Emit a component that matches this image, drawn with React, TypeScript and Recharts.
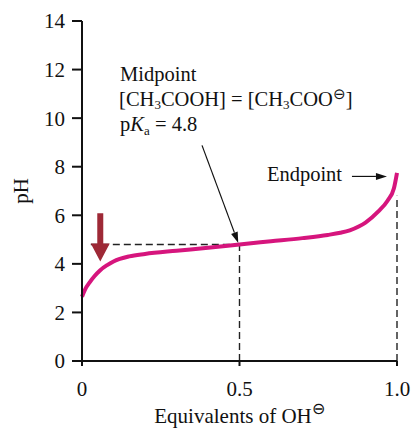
import { Line, LineChart, ReferenceDot, ReferenceLine, XAxis, YAxis } from "recharts";

// titration of acetic acid: equivalents of OH- vs pH
const equivalents = [0, 0.01, 0.025, 0.04, 0.057, 0.08, 0.1, 0.15, 0.2, 0.3, 0.4, 0.5, 0.6, 0.7, 0.78, 0.82, 0.85, 0.88, 0.9, 0.94, 0.97, 0.99, 1.0];
const phValues = [2.65, 2.95, 3.25, 3.5, 3.73, 3.95, 4.1, 4.31, 4.41, 4.54, 4.66, 4.8, 4.93, 5.06, 5.19, 5.28, 5.38, 5.55, 5.7, 6.15, 6.6, 7.1, 7.75];

const xTicks = [0, 0.5, 1.0];
const xTickLabels = ["0", "0.5", "1.0"];
const yTicks = [0, 2, 4, 6, 8, 10, 12, 14];

const midpoint = { eq: 0.5, ph: 4.8 };
const endpoint = { eq: 1.0, ph: 6.8 };

const data = equivalents.map((eq, i) => ({ eq, ph: phValues[i] }));

const FONT = "'Liberation Serif', 'Times New Roman', serif";
const MAGENTA = "#d6157d";
const DARK_RED = "#9e2936";

const ThinArrow = (p: any) => {
  const { x1, y1, x2, y2 } = p;
  const a = Math.atan2(y2 - y1, x2 - x1);
  const len = 11;
  const half = 3.5;
  const bx = x2 - len * Math.cos(a);
  const by = y2 - len * Math.sin(a);
  const nx = -Math.sin(a) * half;
  const ny = Math.cos(a) * half;
  return (
    <g>
      <line x1={x1} y1={y1} x2={bx} y2={by} stroke="#111" strokeWidth={1.2} />
      <polygon points={`${x2},${y2} ${bx + nx},${by + ny} ${bx - nx},${by - ny}`} fill="#111" />
    </g>
  );
};

const FatArrow = (p: any) => {
  const { x1, y1, x2, y2 } = p;
  const headLen = 18;
  const shaft = 3;
  const head = 9.5;
  const hy = y2 - headLen;
  return (
    <polygon
      points={`${x1 - shaft},${y1} ${x1 + shaft},${y1} ${x1 + shaft},${hy} ${x2 + head},${hy} ${x2},${y2} ${x2 - head},${hy} ${x1 - shaft},${hy}`}
      fill={DARK_RED}
    />
  );
};

const MidpointNote = (p: any) => {
  const { cx, cy } = p;
  const t = { fontFamily: FONT, fontSize: 20.5, fill: "#111" };
  return (
    <g>
      <text x={cx} y={cy} {...t}>Midpoint</text>
      <text x={cx - 1} y={cy + 25} {...t}>
        [CH<tspan fontSize={13} dy={3}>3</tspan>
        <tspan dy={-3}>COOH] = [CH</tspan>
        <tspan fontSize={13} dy={3}>3</tspan>
        <tspan dy={-3}>COO</tspan>
        <tspan fontSize={15} dy={-7}>⊖</tspan>
        <tspan dy={7}>]</tspan>
      </text>
      <text x={cx} y={cy + 50} {...t}>
        p<tspan fontStyle="italic">K</tspan>
        <tspan fontSize={13} dy={4}>a</tspan>
        <tspan dy={-4}> = 4.8</tspan>
      </text>
    </g>
  );
};

const EndpointNote = (p: any) => (
  <text x={p.cx} y={p.cy} fontFamily={FONT} fontSize={20.5} fill="#111">Endpoint</text>
);

const XLabel = (p: any) => {
  const vb = p.viewBox;
  return (
    <text x={vb.x + vb.width / 2} y={vb.y + 62} textAnchor="middle" fontFamily={FONT} fontSize={21} fill="#111">
      Equivalents of OH<tspan fontSize={16} dy={-9}>⊖</tspan>
    </text>
  );
};

const YLabel = (p: any) => {
  const vb = p.viewBox;
  const x = vb.x + 6;
  const y = vb.y + vb.height / 2;
  return (
    <text x={x} y={y} transform={`rotate(-90 ${x} ${y})`} textAnchor="middle" fontFamily={FONT} fontSize={21} fill="#111">
      pH
    </text>
  );
};

export default function App() {
  const tick = { fontFamily: FONT, fontSize: 21, fill: "#111" };
  return (
    <div style={{ position: "absolute", left: 0, top: 0, background: "#fff" }}>
      <LineChart width={413} height={429} data={data} margin={{ top: 21, right: 16, bottom: 8, left: 22 }}>
        <XAxis
          dataKey="eq"
          type="number"
          domain={[0, 1]}
          ticks={xTicks}
          tickFormatter={(v) => xTickLabels[xTicks.indexOf(v)] ?? String(v)}
          tick={tick}
          tickSize={5}
          tickMargin={15}
          height={60}
          axisLine={{ stroke: "#111", strokeWidth: 2 }}
          tickLine={{ stroke: "#111", strokeWidth: 2 }}
          label={XLabel}
        />
        <YAxis
          type="number"
          domain={[0, 14]}
          ticks={yTicks}
          tick={tick}
          tickSize={10}
          tickMargin={7}
          width={60}
          axisLine={{ stroke: "#111", strokeWidth: 2 }}
          tickLine={{ stroke: "#111", strokeWidth: 2 }}
          label={YLabel}
        />
        <ReferenceLine
          segment={[{ x: 0.028, y: midpoint.ph }, { x: midpoint.eq, y: midpoint.ph }]}
          stroke="#222"
          strokeWidth={1.4}
          strokeDasharray="7 4"
        />
        <ReferenceLine
          segment={[{ x: midpoint.eq, y: 0 }, { x: midpoint.eq, y: midpoint.ph }]}
          stroke="#222"
          strokeWidth={1.4}
          strokeDasharray="7 4"
        />
        <ReferenceLine
          segment={[{ x: endpoint.eq, y: 0 }, { x: endpoint.eq, y: endpoint.ph }]}
          stroke="#222"
          strokeWidth={1.4}
          strokeDasharray="7 4"
        />
        <Line
          type="monotone"
          dataKey="ph"
          stroke={MAGENTA}
          strokeWidth={4}
          dot={false}
          activeDot={false}
          isAnimationActive={false}
        />
        <ReferenceLine segment={[{ x: 0.058, y: 6.08 }, { x: 0.058, y: 4.1 }]} shape={FatArrow} />
        <ReferenceLine segment={[{ x: 0.381, y: 8.88 }, { x: 0.496, y: 4.86 }]} shape={ThinArrow} />
        <ReferenceLine segment={[{ x: 0.857, y: 7.6 }, { x: 0.968, y: 7.6 }]} shape={ThinArrow} />
        <ReferenceDot x={0.121} y={11.52} r={1} shape={MidpointNote} />
        <ReferenceDot x={0.587} y={7.4} r={1} shape={EndpointNote} />
      </LineChart>
    </div>
  );
}
